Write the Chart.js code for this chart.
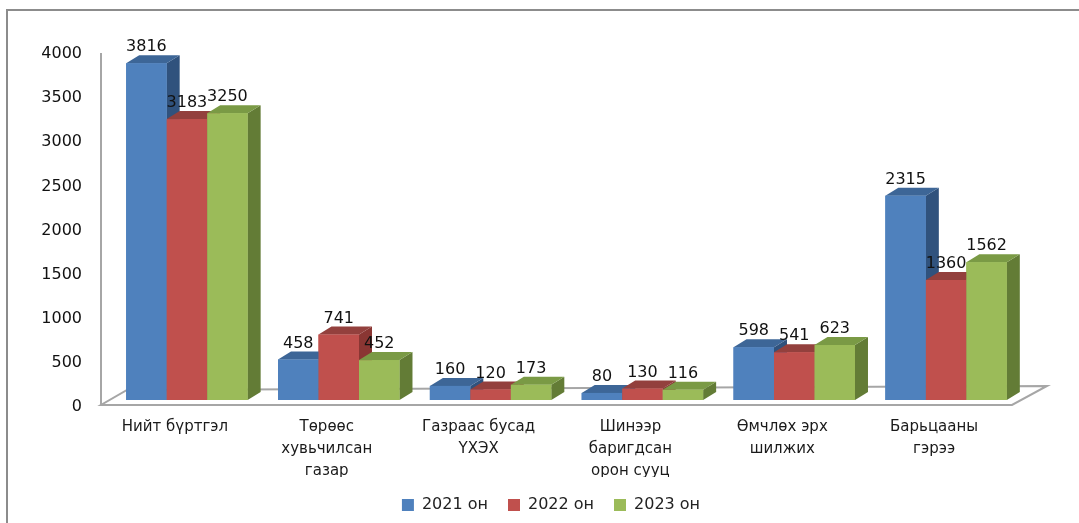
<!DOCTYPE html>
<html>
<head>
<meta charset="utf-8">
<script src="https://cdn.jsdelivr.net/npm/chart.js@4.4.1/dist/chart.umd.min.js"></script>
<style>
  body { margin: 0; background: #fff; }
  .chartBox { position: relative; width: 1079px; height: 523px; overflow: hidden; }
  .frame { position: absolute; left: 6px; top: 9px; right: -10px; bottom: -10px;
           border-top: 2px solid #8c8c8c; border-left: 2px solid #8c8c8c; }
  canvas { position: absolute; left: 0; top: 0; }
</style>
</head>
<body>
<div class="chartBox">
  <div class="frame"></div>
  <canvas id="chart" width="1079" height="523"></canvas>
</div>
<script>
const categories = [
  ['Нийт бүртгэл'],
  ['Төрөөс', 'хувьчилсан', 'газар'],
  ['Газраас бусад', 'ҮХЭХ'],
  ['Шинээр', 'баригдсан', 'орон сууц'],
  ['Өмчлөх эрх', 'шилжих'],
  ['Барьцааны', 'гэрээ']
];
const seriesNames = ['2021 он', '2022 он', '2023 он'];
const values2021 = [3816, 458, 160, 80, 598, 2315];
const values2022 = [3183, 741, 120, 130, 541, 1360];
const values2023 = [3250, 452, 173, 116, 623, 1562];
const yMin = 0, yMax = 4000, yStep = 500;

// front / top / side colours for the fake 3D look
const faces = [
  { front: '#4F81BD', top: '#3D6697', side: '#30527D' },
  { front: '#C0504D', top: '#93403D', side: '#8A3633' },
  { front: '#9BBB59', top: '#7A9A45', side: '#637C36' }
];
const DX = 13, DY = -8;
const FONT = 'DejaVu Sans';

const bars3d = {
  id: 'bars3d',
  beforeDatasetsDraw(chart) {
    const { ctx, chartArea } = chart;
    const base = chart.scales.y.getPixelForValue(0);
    ctx.save();
    ctx.strokeStyle = '#a6a6a6';
    ctx.lineWidth = 2;
    // back wall edge
    ctx.beginPath();
    ctx.moveTo(chartArea.left - 10, chartArea.top + 6);
    ctx.lineTo(chartArea.left - 10, base + 5);
    ctx.stroke();
    // floor
    ctx.beginPath();
    ctx.moveTo(chartArea.left - 10, base + 5);
    ctx.lineTo(chartArea.right - 10, base + 5);
    ctx.lineTo(chartArea.right + 25, base - 14);
    ctx.lineTo(chartArea.left + 16, base - 10);
    ctx.closePath();
    ctx.stroke();
    ctx.restore();
  },
  afterDatasetsDraw(chart) {
    const ctx = chart.ctx;
    ctx.save();
    for (let i = 0; i < categories.length; i++) {
      chart.data.datasets.forEach((ds, d) => {
        const bar = chart.getDatasetMeta(d).data[i];
        const x0 = bar.x - bar.width / 2, x1 = bar.x + bar.width / 2;
        const top = bar.y, base = bar.base;
        const c = faces[d];
        ctx.fillStyle = c.side;
        ctx.beginPath();
        ctx.moveTo(x1, top);
        ctx.lineTo(x1 + DX, top + DY);
        ctx.lineTo(x1 + DX, base + DY);
        ctx.lineTo(x1, base);
        ctx.closePath();
        ctx.fill();
        ctx.fillStyle = c.top;
        ctx.beginPath();
        ctx.moveTo(x0, top);
        ctx.lineTo(x0 + DX, top + DY);
        ctx.lineTo(x1 + DX, top + DY);
        ctx.lineTo(x1, top);
        ctx.closePath();
        ctx.fill();
        ctx.fillStyle = c.front;
        ctx.fillRect(x0, top, x1 - x0, base - top);
      });
    }
    ctx.fillStyle = '#111';
    ctx.font = '16px "' + FONT + '"';
    ctx.textAlign = 'center';
    ctx.textBaseline = 'middle';
    chart.data.datasets.forEach((ds, d) => {
      chart.getDatasetMeta(d).data.forEach((bar, i) => {
        ctx.fillText(ds.data[i], bar.x, bar.y - 16);
      });
    });
    ctx.restore();
  }
};

const series = [values2021, values2022, values2023];

new Chart(document.getElementById('chart').getContext('2d'), {
  type: 'bar',
  data: {
    labels: categories,
    datasets: series.map((vals, d) => ({
      label: seriesNames[d],
      data: vals,
      backgroundColor: faces[d].front,
      borderWidth: 0,
      categoryPercentage: 0.8,
      barPercentage: 1.0
    }))
  },
  options: {
    responsive: false,
    animation: false,
    layout: { padding: { left: 23, right: 0, top: 47, bottom: 0 } },
    scales: {
      x: {
        grid: { display: false, drawTicks: false },
        border: { display: false },
        ticks: {
          autoSkip: false,
          maxRotation: 0,
          padding: 16,
          labelOffset: -12,
          color: '#1a1a1a',
          font: { family: FONT, size: 15, lineHeight: '22px' }
        },
        afterFit: s => { s.height = 77; }
      },
      y: {
        min: yMin,
        max: yMax,
        grid: { display: false, drawTicks: false },
        border: { display: false },
        ticks: {
          stepSize: yStep,
          padding: 29,
          labelOffset: 7,
          color: '#111',
          font: { family: FONT, size: 16 },
          callback: v => String(v)
        },
        afterFit: s => { s.width = 88; }
      },
      // empty right axis, only keeps room on the right side
      yRight: {
        position: 'right',
        min: yMin,
        max: yMax,
        grid: { display: false, drawTicks: false },
        border: { display: false },
        ticks: { display: false },
        afterFit: s => { s.width = 57; }
      }
    },
    plugins: {
      tooltip: { enabled: false },
      legend: {
        position: 'bottom',
        labels: {
          boxWidth: 12,
          boxHeight: 12,
          padding: 20,
          color: '#222',
          font: { family: FONT, size: 16 }
        }
      }
    }
  },
  plugins: [bars3d]
});
</script>
</body>
</html>
